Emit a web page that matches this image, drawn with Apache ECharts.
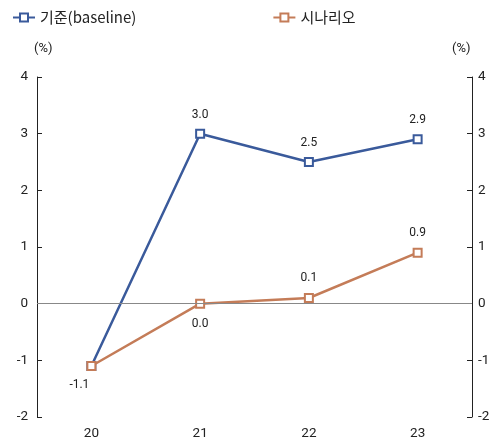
<!DOCTYPE html>
<html>
<head>
<meta charset="utf-8">
<script src="https://cdn.jsdelivr.net/npm/echarts@6/dist/echarts.min.js"></script>
<style>
  html, body { margin: 0; padding: 0; background: #fff; }
  #chart { width: 491px; height: 444px; }
</style>
</head>
<body>
<div id="chart"></div>
<script>
// Years on the category axis
const categories = ['20', '21', '22', '23'];
// Growth rates (%) for each path
const baselineName = '기준(baseline)';
const baselineValues = [-1.1, 3.0, 2.5, 2.9];
const scenarioName = '시나리오';
const scenarioValues = [-1.1, 0.0, 0.1, 0.9];
// Value axis range
const yMin = -2, yMax = 4, yStep = 1;

const blue = '#3a5a9b';
const orange = '#c47c58';
const font = 'Roboto, "Liberation Sans", Arial, sans-serif';
const legendIcon = 'path://M0,5 L7,5 M15,5 L22,5 M7,1 L15,1 L15,9 L7,9 Z';

const chart = echarts.init(document.getElementById('chart'));

function valueAxis(position, margin) {
  return {
    type: 'value',
    position: position,
    min: yMin, max: yMax, interval: yStep,
    axisLine: { show: true, lineStyle: { color: '#222', width: 1 } },
    axisTick: { show: true, inside: true, length: 5, lineStyle: { color: '#222' } },
    axisLabel: { color: '#222', fontSize: 13.5, fontFamily: font, margin: margin },
    splitLine: { show: false }
  };
}

const labelBase = { show: true, fontSize: 12, color: '#222', fontFamily: font, formatter: p => p.value.toFixed(1) };

// Scenario labels: first sits below-left, second below, the rest above
const scenarioData = scenarioValues.map((v, i) => {
  if (i === 0) return { value: v, label: { position: 'bottom', distance: 8, offset: [-12, 0] } };
  if (i === 1) return { value: v, label: { position: 'bottom', distance: 9 } };
  return { value: v, label: { position: 'top', distance: 9 } };
});
// Baseline labels above; the first point shares its label with the scenario
const baselineData = baselineValues.map((v, i) => (
  i === 0 ? { value: v, label: { show: false } } : { value: v, label: { position: 'top', distance: 8 } }
));

chart.setOption({
  animation: false,
  backgroundColor: '#fff',
  legend: {
    left: 7, top: 5,
    itemGap: 136,
    itemWidth: 22, itemHeight: 10,
    textStyle: { fontSize: 15, color: '#222', fontFamily: '"Noto Sans CJK KR", ' + font },
    data: [
      { name: baselineName, icon: legendIcon },
      { name: scenarioName, icon: legendIcon }
    ]
  },
  graphic: [
    { type: 'text', left: 34, top: 42, style: { text: '(%)', fontSize: 13, fill: '#222', fontFamily: font } },
    { type: 'text', left: 452, top: 42, style: { text: '(%)', fontSize: 13, fill: '#222', fontFamily: font } }
  ],
  grid: { left: 37, right: 19, top: 77, bottom: 27, outerBoundsMode: 'none', containLabel: false },
  xAxis: {
    type: 'category',
    data: categories,
    boundaryGap: true,
    axisLine: { show: false },
    axisTick: { show: false },
    axisLabel: { color: '#222', fontSize: 13.5, fontFamily: font, margin: 10 }
  },
  yAxis: [valueAxis('left', 9), valueAxis('right', 6)],
  series: [
    {
      name: baselineName,
      type: 'line',
      data: baselineData,
      symbol: 'rect', symbolSize: 8,
      itemStyle: { color: '#fff', borderColor: blue, borderWidth: 2 },
      lineStyle: { color: blue, width: 2.5 },
      z: 2,
      label: labelBase
    },
    {
      name: scenarioName,
      type: 'line',
      data: scenarioData,
      symbol: 'rect', symbolSize: 8,
      itemStyle: { color: '#fff', borderColor: orange, borderWidth: 2 },
      lineStyle: { color: orange, width: 2.5 },
      z: 3,
      label: labelBase,
      markLine: {
        silent: true, symbol: 'none', label: { show: false },
        lineStyle: { color: '#888', width: 1.2, type: 'solid' },
        data: [{ yAxis: 0 }]
      }
    }
  ]
});
</script>
</body>
</html>
